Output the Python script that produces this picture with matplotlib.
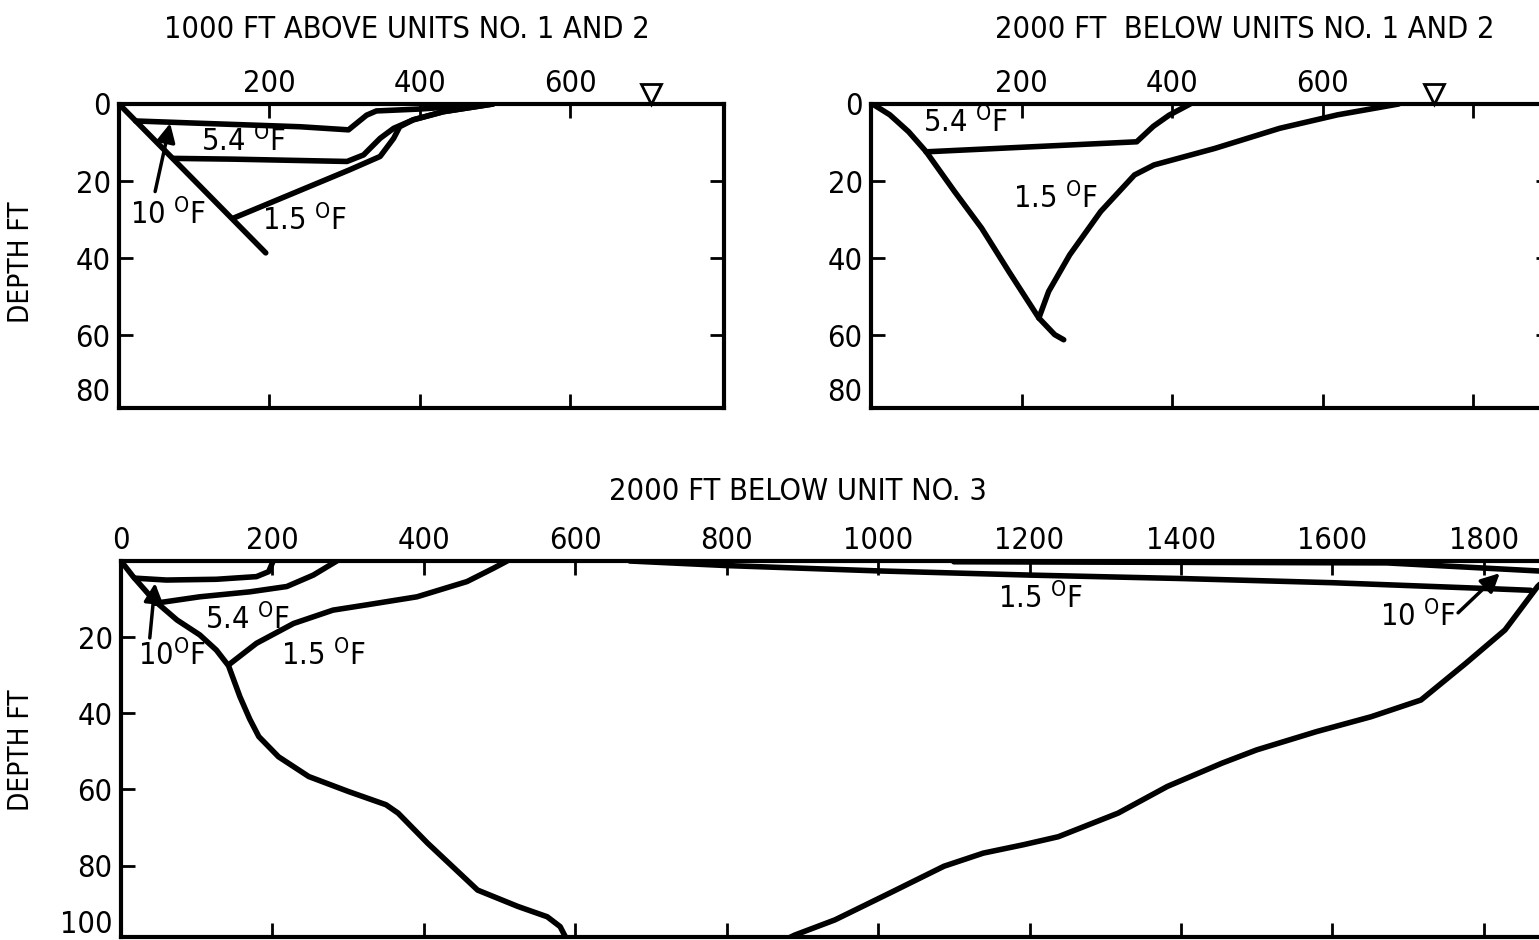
import matplotlib
matplotlib.use('Agg')
import matplotlib.pyplot as plt
from matplotlib import font_manager
import numpy as np

# narrow sans to look like the old lettering; pick what is installed
names = {(f.name, f.stretch) for f in font_manager.fontManager.ttflist}
if any(n == 'Liberation Sans Narrow' for n, s in names):
    plt.rcParams['font.family'] = ['Liberation Sans Narrow', 'DejaVu Sans']
    math_rm = 'Liberation Sans Narrow'
    fsize = 24
elif ('DejaVu Sans', 'condensed') in names:
    plt.rcParams['font.family'] = ['DejaVu Sans']
    plt.rcParams['font.stretch'] = 'condensed'
    math_rm = 'DejaVu Sans:stretch=condensed'
    fsize = 22
else:
    plt.rcParams['font.family'] = ['DejaVu Sans']
    math_rm = 'DejaVu Sans'
    fsize = 19
plt.rcParams['mathtext.fontset'] = 'custom'
plt.rcParams['mathtext.rm'] = math_rm
plt.rcParams['font.size'] = fsize

W, H = 1539, 940

### Data: distance from shore (ft) vs depth (ft)
# 1000 FT ABOVE UNITS NO. 1 AND 2
tl_edge_x = [0, 195]
tl_edge_d = [0, 38.6]
tl_10F_x = [22, 108, 241, 305, 329, 342, 400, 444, 484]
tl_10F_d = [4.4, 5.0, 5.9, 6.7, 2.9, 1.8, 1.3, 0.7, 0.0]
tl_54F_x = [72, 152, 303, 325, 347, 365, 391, 431, 497]
tl_54F_d = [14.1, 14.3, 14.9, 13.2, 8.9, 6.3, 4.1, 2.0, 0.0]
tl_15F_x = [152, 306, 347, 365, 373, 391, 431, 497]
tl_15F_d = [29.6, 17.1, 13.6, 8.9, 5.9, 4.1, 2.0, 0.0]

# 2000 FT BELOW UNITS NO. 1 AND 2
tr_edge_x = [2, 25, 50, 73, 111, 147, 183, 223, 244, 256]
tr_edge_d = [0, 2.8, 7.2, 12.3, 22.7, 32.2, 43.4, 55.5, 59.8, 61.6]
tr_54F_x = [73, 353, 375, 396, 424]
tr_54F_d = [12.4, 9.8, 5.8, 2.9, 0.0]
tr_15F_x = [223, 236, 264, 305, 350, 376, 457, 543, 620, 701]
tr_15F_d = [55.5, 48.6, 39.1, 27.9, 18.4, 15.8, 11.5, 6.3, 2.8, 0.0]

# 2000 FT BELOW UNIT NO. 3
b_edge_x = [0, 16, 43, 74, 104, 126, 142, 157, 170, 182, 208, 248, 300, 350, 366,
            405, 471, 524, 563, 580, 589]
b_edge_d = [0, 4.1, 10.2, 15.5, 19.4, 23.4, 27.5, 35.6, 41.5, 46.1, 51.4, 56.6, 60.5,
            64.0, 66.2, 74.1, 88.7, 94.5, 98.2, 101.7, 106.4]
b_10F_x = [18, 60, 126, 179, 195, 201]
b_10F_d = [4.5, 5.0, 4.8, 4.1, 2.8, 0.0]
b_54F_x = [45, 104, 170, 219, 254, 285]
b_54F_d = [11.1, 9.4, 8.1, 6.7, 3.7, 0.0]
b_15F_x = [142, 179, 228, 280, 325, 391, 457, 492, 510]
b_15F_d = [27.3, 21.6, 16.4, 12.9, 11.5, 9.4, 5.4, 1.9, 0.0]
b_15F_top_x = [672, 800, 1000, 1200, 1400, 1600, 1800, 1862]
b_15F_top_d = [0.0, 1.2, 2.6, 3.7, 4.6, 5.7, 7.2, 7.7]
b_10F_top_x = [1100, 1672, 1880]
b_10F_top_d = [0.2, 0.5, 2.7]
b_right_x = [1885, 1871, 1828, 1776, 1717, 1651, 1579, 1500, 1454, 1382, 1317, 1238,
             1192, 1139, 1087, 1015, 943, 890, 877]
b_right_d = [4.0, 6.7, 18.1, 26.9, 36.5, 40.9, 44.8, 49.6, 53.1, 59.2, 66.2, 72.4,
             74.5, 76.7, 80.2, 89.8, 99.3, 104.7, 106.4]

water_tl = 707
water_tr = 748

deg = r'$^{\mathrm{O}}$F'


def depth_scale(knee, factor):
    # depth axis is linear down to the knee, squeezed below it
    def fwd(d):
        d = np.asarray(d, dtype=float)
        return np.where(d <= knee, d, knee + (d - knee) * factor)

    def inv(p):
        p = np.asarray(p, dtype=float)
        return np.where(p <= knee, p, knee + (p - knee) / factor)
    return fwd, inv


def setup(ax, xmax, ymax, xticks, xlabels, yticks, knee, factor):
    ax.set_yscale('function', functions=depth_scale(knee, factor))
    ax.set_xlim(0, xmax)
    ax.set_ylim(ymax, 0)
    ax.set_xticks(xticks, xlabels)
    ax.set_yticks(yticks, [str(t) for t in yticks])
    ax.tick_params(axis='x', direction='in', length=10, width=2, top=True, bottom=True,
                   labeltop=True, labelbottom=False, pad=4)
    ax.tick_params(axis='y', direction='in', length=10, width=2, left=True, right=True,
                   pad=6)
    for s in ax.spines.values():
        s.set_linewidth(3)
    # last depth label has no tick mark
    t = ax.yaxis.get_major_ticks()[-1]
    t.tick1line.set_visible(False)
    t.tick2line.set_visible(False)


def curve(ax, x, d):
    ax.plot(x, d, color='black', linewidth=4, solid_capstyle='round',
            solid_joinstyle='round')


def arrow(ax, tail, head):
    ax.annotate('', xy=head, xytext=tail,
                arrowprops=dict(arrowstyle='-|>', color='black', lw=2.5,
                                mutation_scale=28, shrinkA=0, shrinkB=0))


fig = plt.figure(figsize=(W / 100, H / 100), dpi=100)

ax1 = fig.add_axes([119 / W, 1 - 408 / H, 605 / W, 304 / H])
ax2 = fig.add_axes([871 / W, 1 - 408 / H, 679 / W, 304 / H])
ax3 = fig.add_axes([121 / W, 1 - 937 / H, 1434 / W, 376 / H])

setup(ax1, 804, 86.7, [200, 400, 600], ['200', '400', '600'],
      [0, 20, 40, 60, 80], 60, 0.705)
setup(ax2, 902, 86.7, [200, 400, 600, 800], ['200', '400', '600', ''],
      [0, 20, 40, 60, 80], 60, 0.705)
setup(ax3, 1894, 105.4, list(range(0, 2000, 200)), [str(v) for v in range(0, 2000, 200)],
      [20, 40, 60, 80, 100], 80, 0.7375)

# top left
curve(ax1, tl_edge_x, tl_edge_d)
curve(ax1, tl_10F_x, tl_10F_d)
curve(ax1, tl_54F_x, tl_54F_d)
curve(ax1, tl_15F_x, tl_15F_d)
arrow(ax1, (48, 22.7), (68, 5.0))
ax1.text(65, 28.5, '10 ' + deg, ha='center', va='center')
ax1.text(165, 9.6, '5.4 ' + deg, ha='center', va='center')
ax1.text(246, 30, '1.5 ' + deg, ha='center', va='center')

# top right
curve(ax2, tr_edge_x, tr_edge_d)
curve(ax2, tr_54F_x, tr_54F_d)
curve(ax2, tr_15F_x, tr_15F_d)
ax2.text(125, 4.8, '5.4 ' + deg, ha='center', va='center')
ax2.text(245, 24.4, '1.5 ' + deg, ha='center', va='center')

# water surface marks
for ax, wx in [(ax1, water_tl), (ax2, water_tr)]:
    ax.plot([wx], [-2.7], marker='v', ms=14, mfc='white', mec='black', mew=2,
            clip_on=False)

# bottom
curve(ax3, b_edge_x, b_edge_d)
curve(ax3, b_10F_x, b_10F_d)
curve(ax3, b_54F_x, b_54F_d)
curve(ax3, b_15F_x, b_15F_d)
curve(ax3, b_15F_top_x, b_15F_top_d)
curve(ax3, b_10F_top_x, b_10F_top_d)
curve(ax3, b_right_x, b_right_d)
arrow(ax3, (38, 20.2), (45, 5.8))
arrow(ax3, (1766, 13.6), (1821, 3.2))
ax3.text(67, 24.7, '10' + deg, ha='center', va='center')
ax3.text(167, 15.3, '5.4 ' + deg, ha='center', va='center')
ax3.text(267, 24.7, '1.5 ' + deg, ha='center', va='center')
ax3.text(1214, 9.7, '1.5 ' + deg, ha='center', va='center')
ax3.text(1713, 14.4, '10 ' + deg, ha='center', va='center')

ax1.set_ylabel('DEPTH FT', fontsize=fsize - 2)
ax1.yaxis.set_label_coords(-0.139, 0.48)
ax3.set_ylabel('DEPTH FT', fontsize=fsize - 2)
ax3.yaxis.set_label_coords(-86 / 1434, 0.497)

fig.text(407 / W, 1 - 30 / H, '1000 FT ABOVE UNITS NO. 1 AND 2', ha='center', va='center')
fig.text(1245 / W, 1 - 30 / H, '2000 FT  BELOW UNITS NO. 1 AND 2', ha='center', va='center')
fig.text(798 / W, 1 - 492 / H, '2000 FT BELOW UNIT NO. 3', ha='center', va='center')

fig.savefig('out.png', dpi=100)
